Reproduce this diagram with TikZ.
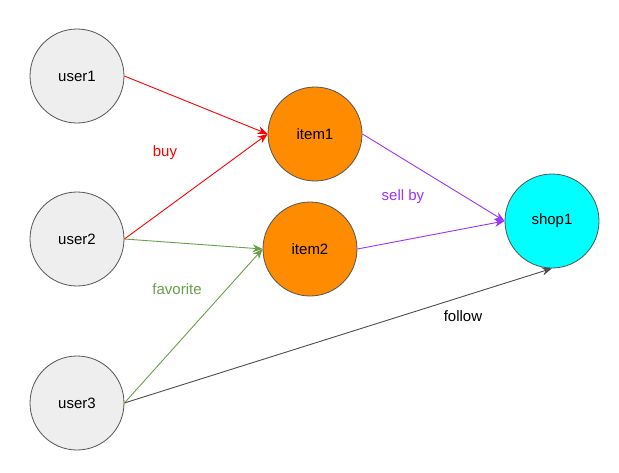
\documentclass[tikz,border=0pt]{standalone}
\usepackage{fontspec}
\setmainfont{Liberation Sans}
\usetikzlibrary{arrows.meta, positioning}

\definecolor{userfill}{HTML}{EEEEEE}
\definecolor{itemfill}{HTML}{FF8C00}
\definecolor{shopfill}{HTML}{00FFFF}
\definecolor{rimgray}{HTML}{555555}
\definecolor{buyred}{HTML}{FF0000}
\definecolor{favgreen}{HTML}{6A9F4A}
\definecolor{sellpurple}{HTML}{9933FF}
\definecolor{followgray}{HTML}{4D4D4D}

\begin{document}
\begin{tikzpicture}[
    x=1pt, y=-1pt,
    >={Stealth[length=10pt, width=8pt]}, % Set default arrow tip style
    every node/.style={font=\fontsize{15}{18}\selectfont},
    entity/.style={circle, draw=rimgray, line width=0.8pt, minimum size=94pt, inner sep=0pt},
    usernode/.style={entity, fill=userfill},
    itemnode/.style={entity, fill=itemfill},
    shopnode/.style={entity, fill=shopfill},
    relation/.style={->, line width=0.9pt}
]

    \useasboundingbox (0,0) rectangle (619,472);

    % Users
    \node[usernode] (user1) at (77,76)  {user1};
    \node[usernode] (user2) at (77,239) {user2};
    \node[usernode] (user3) at (77,403) {user3};

    % Items and shop
    \node[itemnode] (item1) at (315,134) {item1};
    \node[itemnode] (item2) at (310,249) {item2};
    \node[shopnode] (shop1) at (552,221) {shop1};

    % Relations
    \draw[relation, buyred] (user1.east) -- (item1.west);
    \draw[relation, buyred] (user2.east) -- (item1.west);
    \draw[relation, favgreen] (user2.east) -- (item2.west);
    \draw[relation, favgreen] (user3.east) -- (item2.west);
    \draw[relation, sellpurple] (item1.east) -- (shop1.west);
    \draw[relation, sellpurple] (item2.east) -- (shop1.west);
    \draw[relation, followgray] (user3.east) -- (shop1.south);

    % Labels
    \node[buyred] (buy) at (165,153) {buy};
    \node[favgreen] (favorite) at (177,289) {favorite};
    \node[sellpurple] (sellby) at (403,197) {sell by};
    \node (follow) at (463,316) {follow};

\end{tikzpicture}
\end{document}
